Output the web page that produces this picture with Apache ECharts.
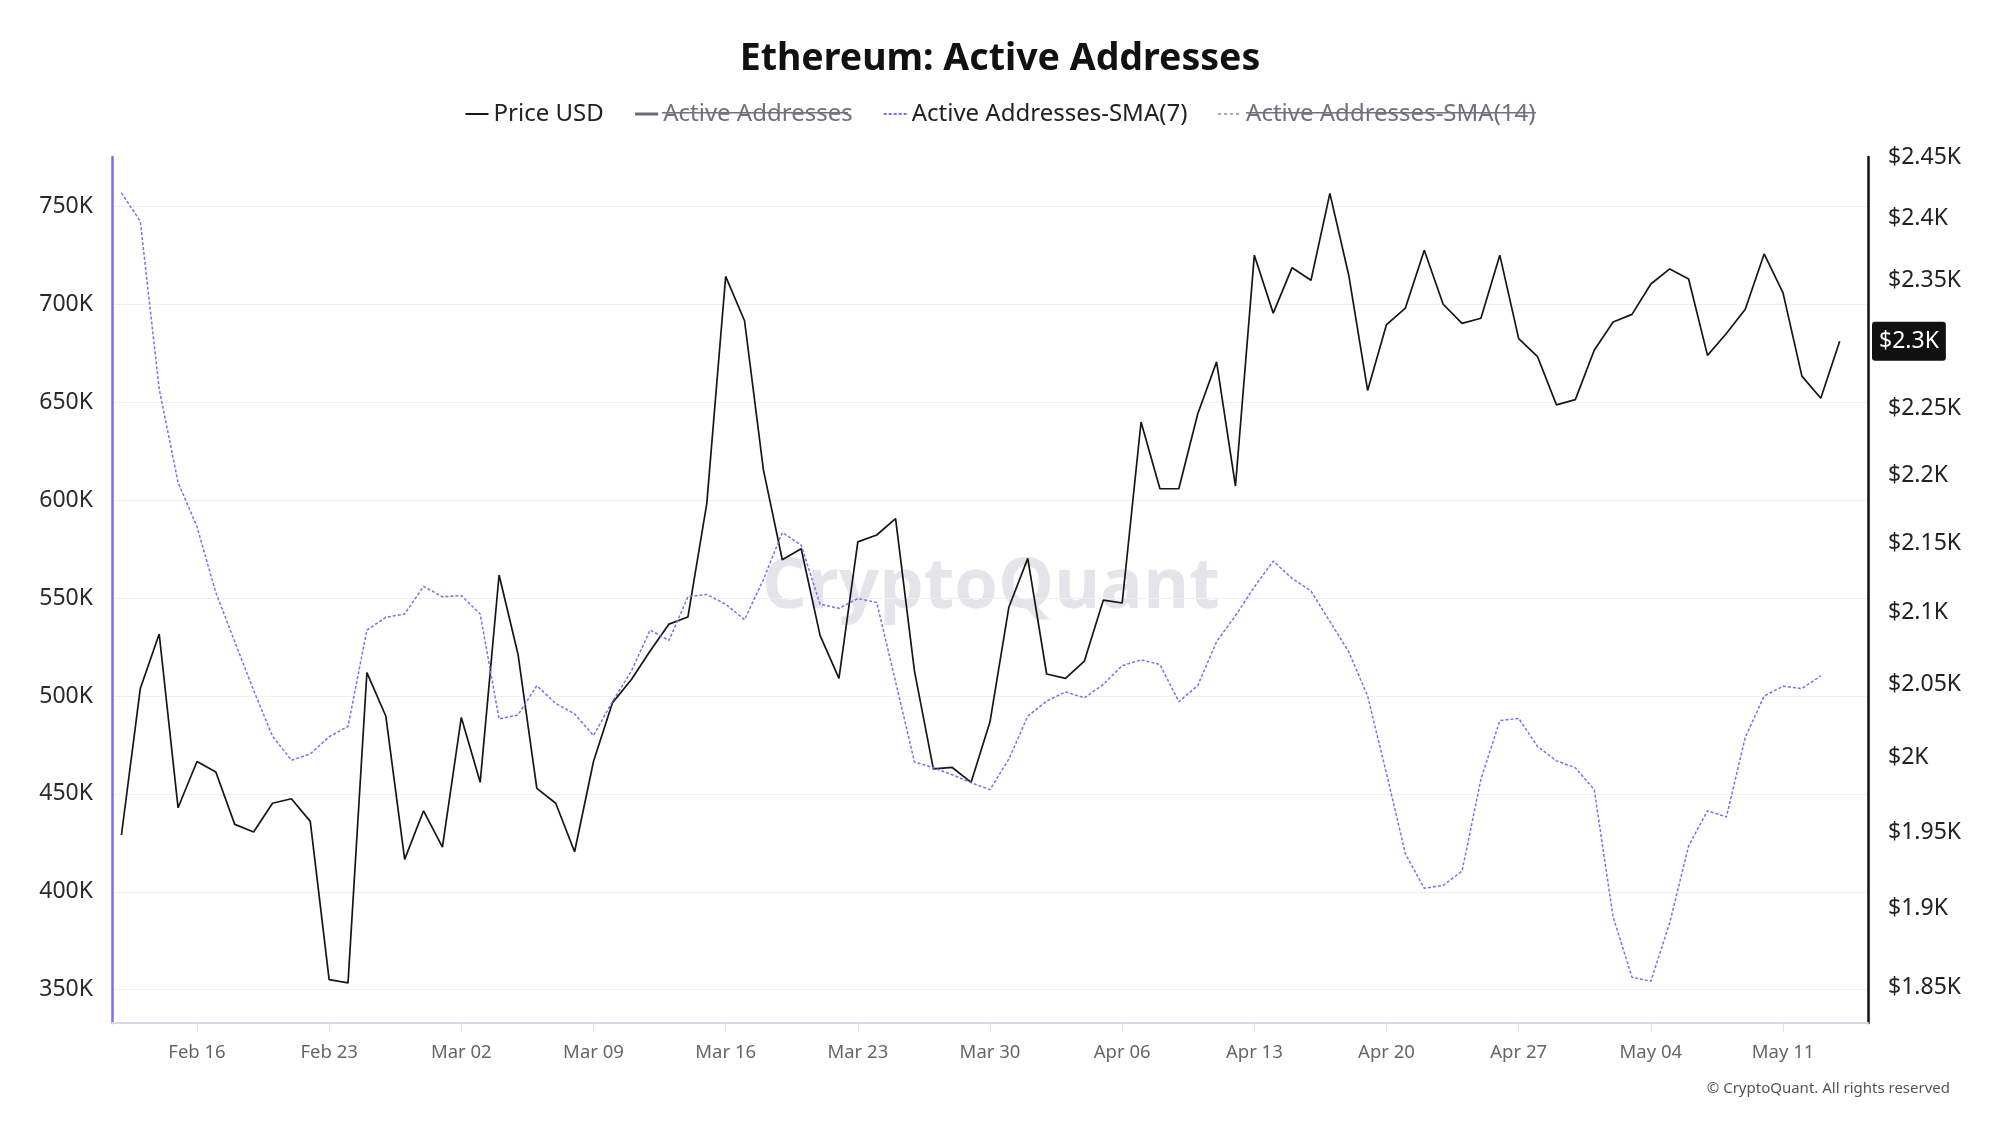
<!DOCTYPE html>
<html>
<head>
<meta charset="utf-8">
<script src="https://cdn.jsdelivr.net/npm/echarts@6/dist/echarts.min.js"></script>
<style>
html,body{margin:0;padding:0;background:#fff;}
#chart{width:2000px;height:1125px;}
</style>
</head>
<body>
<div id="chart"></div>
<script>
const dates = [
'Feb 12','Feb 13','Feb 14','Feb 15','Feb 16','Feb 17','Feb 18','Feb 19','Feb 20','Feb 21','Feb 22','Feb 23','Feb 24','Feb 25','Feb 26','Feb 27','Feb 28',
'Mar 01','Mar 02','Mar 03','Mar 04','Mar 05','Mar 06','Mar 07','Mar 08','Mar 09','Mar 10','Mar 11','Mar 12','Mar 13','Mar 14','Mar 15','Mar 16','Mar 17','Mar 18','Mar 19','Mar 20','Mar 21','Mar 22','Mar 23','Mar 24','Mar 25','Mar 26','Mar 27','Mar 28','Mar 29','Mar 30','Mar 31',
'Apr 01','Apr 02','Apr 03','Apr 04','Apr 05','Apr 06','Apr 07','Apr 08','Apr 09','Apr 10','Apr 11','Apr 12','Apr 13','Apr 14','Apr 15','Apr 16','Apr 17','Apr 18','Apr 19','Apr 20','Apr 21','Apr 22','Apr 23','Apr 24','Apr 25','Apr 26','Apr 27','Apr 28','Apr 29','Apr 30',
'May 01','May 02','May 03','May 04','May 05','May 06','May 07','May 08','May 09','May 10','May 11','May 12','May 13','May 14','May 15'
];
const xTickLabels = ['Feb 16','Feb 23','Mar 02','Mar 09','Mar 16','Mar 23','Mar 30','Apr 06','Apr 13','Apr 20','Apr 27','May 04','May 11'];

const priceUSD = [
1948,2047,2085,1966,1997,1990,1955,1950,1969,1972,1957,1855,1853,2058,2028,1932,1964,
1940,2027,1983,2127,2071,1979,1969,1937,1997,2037,2053,2073,2092,2097,2179,2353,2318,2204,2138,2146,2084,2054,2151,2156,2168,2059,1992,1993,1983,2024,2104,
2139,2057,2054,2066,2109,2107,2240,2190,2190,2246,2286,2192,2370,2324,2360,2350,2420,2354,2264,2315,2328,2374,2331,2316,2320,2370,2304,2290,2253,2257,
2295,2317,2323,2347,2359,2351,2291,2308,2327,2371,2340,2275,2258,2302,null
];
const activeSMA7 = [
757000,742400,656800,609000,586500,552800,527800,502900,479500,467200,470400,479200,484500,533700,540200,541900,556000,
550700,551300,541900,488300,490300,505300,496200,490900,479800,497100,512600,533700,528400,550700,551900,546900,539000,559500,583500,577100,546900,544800,549800,547800,507300,466300,463400,459800,455700,452200,467800,
489700,497400,502100,499100,505900,515500,518500,516100,497100,505300,527800,541000,555700,568900,560100,553600,538100,522600,500000,460400,419400,401800,403300,410600,457500,487400,488600,474200,466900,463400,
452200,387200,356400,354300,384200,423500,441400,438200,478900,500000,505000,503800,510300,null,null
];
const activeAddresses = [];
const activeSMA14 = [];
const leftTicks = [350000,400000,450000,500000,550000,600000,650000,700000,750000];
const rightTicks = [1850,1900,1950,2000,2050,2100,2150,2200,2250,2300,2350,2400,2450];

let lastPrice = null;
for (let i = priceUSD.length - 1; i >= 0; i--) { if (priceUSD[i] != null) { lastPrice = priceUSD[i]; break; } }

const FONT = 'Noto Sans';
const chart = echarts.init(document.getElementById('chart'), null, {renderer: 'canvas'});
const fmtK = v => (v / 1000) + 'K';
const fmtUsd = v => '$' + (Math.round(v / 10) / 100) + 'K';
const lastLabel = fmtUsd(Math.round(lastPrice / 100) * 100);

chart.setOption({
  animation: false,
  backgroundColor: '#fff',
  textStyle: {fontFamily: FONT},
  title: {
    text: 'Ethereum: Active Addresses',
    left: 'center', top: 35,
    textStyle: {fontFamily: FONT, fontSize: 37.5, fontWeight: 'bold', color: '#111'}
  },
  legend: {
    top: 97, left: 'center',
    itemWidth: 23, itemHeight: 12, itemGap: 30,
    textStyle: {fontFamily: FONT, fontSize: 24, color: '#222'},
    itemStyle: {opacity: 0},
    inactiveColor: '#707080',
    lineStyle: {inactiveColor: '#707080', inactiveWidth: 2.5},
    data: [
      {name: 'Price USD'},
      {name: 'Active Addresses', lineStyle: {inactiveColor: '#6a6a78', inactiveWidth: 3}},
      {name: 'Active Addresses-SMA(7)'},
      {name: 'Active Addresses-SMA(14)', lineStyle: {inactiveColor: '#8a8a96', inactiveWidth: 1.5, type: [3, 3]}}
    ],
    selected: {'Active Addresses': false, 'Active Addresses-SMA(14)': false}
  },
  grid: {left: 112, right: 132, top: 157, bottom: 102, containLabel: false, outerBoundsMode: 'none'},
  xAxis: {
    type: 'category', data: dates, boundaryGap: true,
    axisLine: {show: true, lineStyle: {color: '#d8d8e6', width: 2}},
    axisTick: {show: true, alignWithLabel: true, length: 9, lineStyle: {color: '#e0e0e0'},
      interval: (i, v) => xTickLabels.includes(v)},
    axisLabel: {color: '#666', fontFamily: FONT, fontSize: 18.5, margin: 20,
      interval: (i, v) => xTickLabels.includes(v)},
    splitLine: {show: false}
  },
  yAxis: [
    {
      type: 'value', position: 'left', min: 333000, max: 775300,
      axisLine: {show: true, lineStyle: {color: '#7b6cf0', width: 2.5}},
      axisTick: {show: false, customValues: leftTicks},
      axisLabel: {color: '#2a2a2a', fontFamily: FONT, fontSize: 23, margin: 19, formatter: fmtK, customValues: leftTicks},
      splitLine: {show: true, lineStyle: {color: '#f0f0f2', width: 1}}
    },
    {
      type: 'log', position: 'right', min: 1828, max: 2450, logBase: 10,
      axisLine: {show: true, lineStyle: {color: '#111', width: 2.5}},
      axisTick: {show: false, customValues: rightTicks},
      axisLabel: {color: '#222', fontFamily: FONT, fontSize: 23, margin: 20,
        formatter: v => (fmtUsd(v) === lastLabel ? '' : fmtUsd(v)), customValues: rightTicks},
      splitLine: {show: false}
    }
  ],
  series: [
    {
      name: 'Price USD', type: 'line', yAxisIndex: 1, data: priceUSD,
      symbol: 'none', connectNulls: false, clip: false,
      lineStyle: {color: '#161616', width: 1.7}, itemStyle: {color: '#161616', opacity: 0},
      z: 3,
      markLine: {
        silent: true, symbol: ['none', 'none'],
        lineStyle: {color: 'rgba(0,0,0,0)', width: 0, type: 'solid'},
        label: {
          show: true, position: 'end', distance: 4,
          formatter: () => lastLabel,
          backgroundColor: '#111', color: '#fff', fontFamily: FONT, fontSize: 23,
          padding: [8, 7, 8, 7], borderRadius: 3
        },
        data: [{yAxis: lastPrice}]
      }
    },
    {
      name: 'Active Addresses', type: 'line', yAxisIndex: 0, data: activeAddresses,
      symbol: 'none', lineStyle: {color: '#555', width: 3}, itemStyle: {color: '#555', opacity: 0}
    },
    {
      name: 'Active Addresses-SMA(7)', type: 'line', yAxisIndex: 0, data: activeSMA7,
      symbol: 'none',
      lineStyle: {color: '#7d6cf7', width: 1.5, type: [3, 2]}, itemStyle: {color: '#7d6cf7', opacity: 0}
    },
    {
      name: 'Active Addresses-SMA(14)', type: 'line', yAxisIndex: 0, data: activeSMA14,
      symbol: 'none', lineStyle: {color: '#888', width: 1.5, type: [3, 3]}, itemStyle: {color: '#888', opacity: 0}
    }
  ],
  graphic: [
    {
      type: 'text', left: 762, top: 552, z: -1, silent: true,
      style: {text: 'CryptoQuant', fontFamily: 'Open Sans', fontWeight: 'bold', fontSize: 70.5, fill: 'rgba(205,205,218,0.55)'}
    },
    {
      type: 'text', right: 50, top: 1081, silent: true,
      style: {text: '\u00a9 CryptoQuant. All rights reserved', fontFamily: FONT, fontSize: 15, fill: '#555'}
    },
    {type: 'rect', left: 662, top: 112, silent: true, shape: {width: 186, height: 1.6}, style: {fill: '#707080'}},
    {type: 'rect', left: 1246, top: 112, silent: true, shape: {width: 290, height: 1.6}, style: {fill: '#707080'}}
  ]
});
</script>
</body>
</html>
